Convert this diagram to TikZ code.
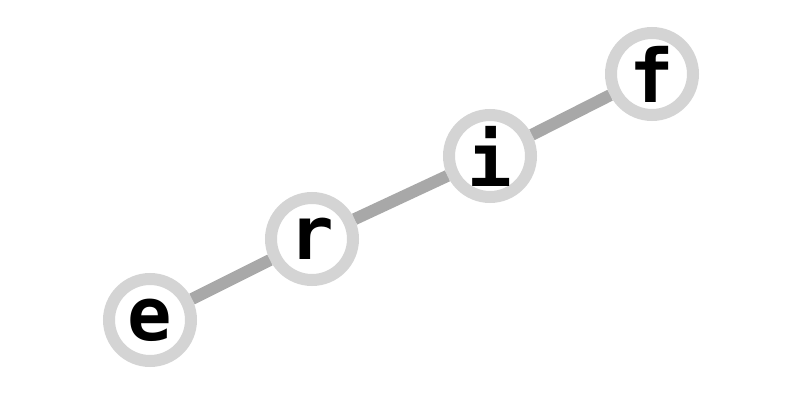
\documentclass[tikz,border=0pt]{standalone}
\usepackage{fontspec}
\newfontfamily\lettermono{DejaVu Sans Mono}
\usepackage{tikz}
\usetikzlibrary{positioning}

\begin{document}
\begin{tikzpicture}
        [x=1pt,y=1pt,
         letter/.style={circle,draw=black!17,fill=white,line width=12pt,minimum size=82pt,inner sep=0pt,
                        font=\lettermono\bfseries\fontsize{74}{74}\selectfont},
         link/.style={draw=black!34,line width=12pt}]
        \useasboundingbox (0,0) rectangle (800,400);
        \node[letter]  (E) at (150,80)  {e};
        \node[letter]  (R) at (312,161) {r};
        \node[letter]  (I) at (490,244) {i};
        \node[letter]  (F) at (652,326) {f};

        \path [link] (E) edge (R)
        (R) edge (I)
        (I) edge (F);
       \end{tikzpicture}
\end{document}
